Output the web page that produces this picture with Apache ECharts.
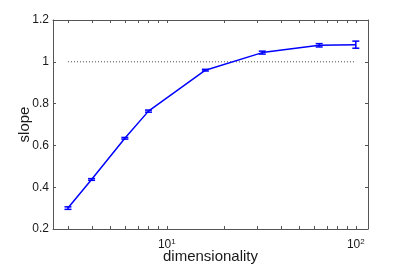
<!DOCTYPE html>
<html>
<head>
<meta charset="utf-8">
<script src="https://cdn.jsdelivr.net/npm/echarts@6/dist/echarts.min.js"></script>
<style>html,body{margin:0;padding:0;background:#fff}#c{width:407px;height:267px}</style>
</head>
<body>
<div id="c"></div>
<script>
var dims = [3, 4, 6, 8, 16, 32, 64, 100];
var slope = [0.300, 0.437, 0.634, 0.764, 0.960, 1.044, 1.079, 1.082];
var slopeErr = [0.006, 0.004, 0.004, 0.005, 0.004, 0.007, 0.008, 0.017];
var refLineX = [3, 100];
var refLineY = 1;
var xTickValues = [3, 4, 5, 6, 7, 8, 9, 10, 20, 30, 40, 50, 60, 70, 80, 90, 100];
var xLabelValues = [10, 100];

var chart = echarts.init(document.getElementById('c'), null, {renderer: 'canvas'});
var axisColor = '#555';
var textColor = '#1a1a1a';
var fontFam = 'Liberation Sans, Arial, Helvetica, sans-serif';

function xAxisBase(pos, showLabel) {
  return {
    type: 'log', logBase: 10, min: 2.5, max: 116, position: pos,
    name: showLabel ? 'dimensionality' : '', nameLocation: 'middle', nameGap: 20,
    nameMoveOverlap: false,
    nameTextStyle: {fontSize: 15, color: textColor, fontFamily: fontFam},
    axisLine: {show: true, onZero: false, lineStyle: {color: axisColor, width: 1}},
    axisTick: {show: false},
    minorTick: {show: false},
    splitLine: {show: false},
    axisLabel: {
      show: showLabel, customValues: xLabelValues, margin: 9,
      formatter: function (v) { return '{b|10}{s|' + Math.round(Math.log10(v)) + '}'; },
      rich: {
        b: {fontSize: 12, color: textColor, fontFamily: fontFam, lineHeight: 14},
        s: {fontSize: 8, color: textColor, fontFamily: fontFam, verticalAlign: 'top', lineHeight: 8, padding: [0, 0, 6, 0]}
      }
    }
  };
}
function yAxisBase(pos, showLabel) {
  return {
    type: 'value', min: 0.2, max: 1.2, interval: 0.2, position: pos,
    name: showLabel ? 'slope' : '', nameLocation: 'middle', nameGap: 21, nameRotate: 90,
    nameMoveOverlap: false,
    nameTextStyle: {fontSize: 15, color: textColor, fontFamily: fontFam},
    axisLine: {show: true, onZero: false, lineStyle: {color: axisColor, width: 1}},
    axisTick: {show: true, inside: true, length: 3, lineStyle: {color: axisColor}},
    splitLine: {show: false},
    axisLabel: {show: showLabel, fontSize: 12, color: textColor, fontFamily: fontFam, margin: 4}
  };
}

var errData = dims.map(function (d, i) { return [d, slope[i], slopeErr[i]]; });

chart.setOption({
  animation: false,
  grid: {left: 53, right: 39, top: 20, bottom: 38, containLabel: false, outerBoundsMode: 'none'},
  xAxis: [xAxisBase('bottom', true), xAxisBase('top', false)],
  yAxis: [yAxisBase('left', true), yAxisBase('right', false)],
  series: [
    {
      type: 'custom', xAxisIndex: 0, yAxisIndex: 0, silent: true, clip: false,
      data: xTickValues.map(function (v) { return [v, 0.7]; }),
      renderItem: function (params, api) {
        var p = api.coord([api.value(0), api.value(1)]);
        var cs = params.coordSys;
        var st = {stroke: axisColor, lineWidth: 1};
        var x = Math.round(p[0]) + 0.5;
        return {
          type: 'group',
          children: [
            {type: 'line', shape: {x1: x, y1: cs.y + cs.height, x2: x, y2: cs.y + cs.height - 3}, style: st},
            {type: 'line', shape: {x1: x, y1: cs.y, x2: x, y2: cs.y + 3}, style: st}
          ]
        };
      }
    },
    {
      type: 'line', xAxisIndex: 0, yAxisIndex: 0,
      data: refLineX.map(function (x) { return [x, refLineY]; }),
      symbol: 'none', silent: true,
      lineStyle: {color: '#444', width: 1, type: [1, 2]}
    },
    {
      type: 'line', xAxisIndex: 0, yAxisIndex: 0,
      data: dims.map(function (d, i) { return [d, slope[i]]; }),
      symbol: 'none',
      lineStyle: {color: '#0000ff', width: 1.5}
    },
    {
      type: 'custom', xAxisIndex: 0, yAxisIndex: 0,
      data: errData,
      renderItem: function (params, api) {
        var x = api.value(0), y = api.value(1), e = api.value(2);
        var lo = api.coord([x, y - e]);
        var hi = api.coord([x, y + e]);
        var hw = 3.5;
        var st = {stroke: '#0000ff', lineWidth: 1.5};
        return {
          type: 'group',
          children: [
            {type: 'line', shape: {x1: lo[0], y1: lo[1], x2: hi[0], y2: hi[1]}, style: st},
            {type: 'line', shape: {x1: lo[0] - hw, y1: lo[1], x2: lo[0] + hw, y2: lo[1]}, style: st},
            {type: 'line', shape: {x1: hi[0] - hw, y1: hi[1], x2: hi[0] + hw, y2: hi[1]}, style: st}
          ]
        };
      }
    }
  ]
});
</script>
</body>
</html>
